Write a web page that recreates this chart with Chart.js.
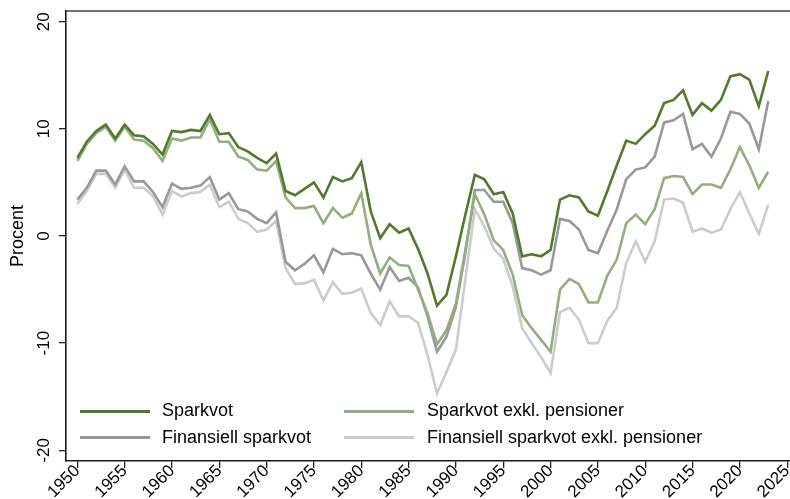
<!DOCTYPE html>
<html>
<head>
<meta charset="utf-8">
<script src="https://cdn.jsdelivr.net/npm/chart.js@4/dist/chart.umd.min.js"></script>
<style>
  html, body { margin: 0; padding: 0; background: #ffffff; }
  #wrap { position: relative; width: 790px; height: 499px; overflow: hidden; }
  #c { position: absolute; left: 0; top: 0; }
  .lg { position: absolute; font-family: "Liberation Sans", Arial, sans-serif; font-size: 18px; line-height: 21px; color: #000; white-space: nowrap; }
  .sw { position: absolute; height: 3px; width: 70px; }
</style>
</head>
<body>
<div id="wrap">
  <canvas id="c" width="790" height="499"></canvas>
  <div class="sw" style="left:80px;top:410px;background:#527a2c"></div>
  <div class="lg" style="left:162px;top:400px">Sparkvot</div>
  <div class="sw" style="left:344px;top:410px;background:#93ae7f"></div>
  <div class="lg" style="left:427px;top:400px">Sparkvot exkl. pensioner</div>
  <div class="sw" style="left:80px;top:436px;background:#999999"></div>
  <div class="lg" style="left:162px;top:427px">Finansiell sparkvot</div>
  <div class="sw" style="left:344px;top:436px;background:#cccccc"></div>
  <div class="lg" style="left:427px;top:427px">Finansiell sparkvot exkl. pensioner</div>
</div>
<script>
const years = [];
for (let y = 1950; y <= 2023; y++) years.push(y);

const sparkvot = [
  7.3, 8.8, 9.8, 10.4, 9.1, 10.4, 9.4, 9.3, 8.6, 7.6,
  9.8, 9.7, 9.9, 9.8, 11.3, 9.5, 9.6, 8.3, 7.9, 7.3,
  6.8, 7.7, 4.2, 3.8, 4.4, 5.0, 3.6, 5.5, 5.1, 5.4,
  6.9, 2.3, -0.2, 1.1, 0.3, 0.7, -1.2, -3.5, -6.5, -5.5,
  -1.9, 2.0, 5.7, 5.3, 3.9, 4.1, 2.1, -1.9, -1.7, -1.9,
  -1.3, 3.4, 3.8, 3.6, 2.3, 1.9, 4.2, 6.6, 8.9, 8.6,
  9.5, 10.3, 12.4, 12.7, 13.6, 11.3, 12.4, 11.7, 12.7, 14.9,
  15.1, 14.6, 12.1, 15.4
];
const sparkvotExkl = [
  7.0, 8.6, 9.6, 10.2, 8.9, 10.2, 9.0, 8.9, 8.2, 7.0,
  9.1, 8.9, 9.2, 9.2, 10.9, 8.8, 8.8, 7.4, 7.1, 6.2,
  6.1, 7.0, 3.6, 2.6, 2.6, 2.8, 1.2, 2.6, 1.7, 2.1,
  4.0, -0.8, -3.5, -2.0, -2.7, -2.8, -5.0, -7.2, -10.1, -8.8,
  -6.3, -1.3, 3.9, 2.0, -0.4, -1.3, -3.6, -7.4, -8.6, -9.7,
  -10.8, -5.0, -4.0, -4.5, -6.2, -6.2, -3.7, -2.2, 1.2, 2.0,
  1.1, 2.5, 5.4, 5.6, 5.5, 3.9, 4.8, 4.8, 4.5, 6.2,
  8.3, 6.6, 4.5, 6.0
];
const finansiell = [
  3.4, 4.5, 6.1, 6.1, 4.8, 6.5, 5.1, 5.1, 4.1, 2.7,
  4.9, 4.4, 4.5, 4.7, 5.5, 3.4, 4.0, 2.5, 2.3, 1.6,
  1.2, 2.2, -2.4, -3.2, -2.6, -1.8, -3.4, -1.2, -1.7, -1.6,
  -1.8, -3.5, -5.0, -2.9, -4.2, -3.9, -4.8, -7.5, -10.8, -9.4,
  -6.6, -1.6, 4.3, 4.3, 3.2, 3.2, 1.2, -3.0, -3.2, -3.6,
  -3.2, 1.6, 1.4, 0.6, -1.3, -1.6, 0.5, 2.5, 5.3, 6.2,
  6.4, 7.4, 10.6, 10.8, 11.4, 8.1, 8.6, 7.4, 9.1, 11.6,
  11.4, 10.5, 8.1, 12.6
];
const finansiellExkl = [
  3.0, 4.2, 5.8, 5.8, 4.5, 6.2, 4.5, 4.5, 3.7, 2.0,
  4.2, 3.7, 4.0, 4.1, 4.8, 2.7, 3.2, 1.6, 1.2, 0.4,
  0.6, 1.4, -3.0, -4.5, -4.4, -4.1, -6.0, -4.3, -5.4, -5.3,
  -4.9, -7.2, -8.3, -6.1, -7.5, -7.5, -8.1, -11.1, -14.7, -12.7,
  -10.6, -4.0, 2.5, 0.9, -1.2, -2.1, -4.7, -8.6, -10.0, -11.3,
  -12.8, -7.1, -6.7, -7.8, -10.0, -10.0, -7.9, -6.7, -2.5, -0.5,
  -2.4, -0.5, 3.4, 3.5, 3.1, 0.4, 0.7, 0.3, 0.6, 2.5,
  4.1, 2.1, 0.2, 2.9
];
const seriesNames = ["Sparkvot", "Sparkvot exkl. pensioner", "Finansiell sparkvot", "Finansiell sparkvot exkl. pensioner"];
const seriesColors = ["#527a2c", "#93ae7f", "#999999", "#cccccc"];
const yTicks = [-20, -10, 0, 10, 20];
const yTitle = "Procent";

const toPoints = vals => years.map((yr, i) => ({ x: yr, y: vals[i] }));
const allSeries = [sparkvot, sparkvotExkl, finansiell, finansiellExkl];
const drawOrder = [0, 1, 2, 3];

const FONT = "'Liberation Sans', Arial, sans-serif";

const topLine = {
  id: 'topLine',
  afterDraw(chart) {
    const { ctx, chartArea } = chart;
    ctx.save();
    ctx.strokeStyle = '#444444';
    ctx.lineWidth = 1.5;
    ctx.beginPath();
    ctx.moveTo(chartArea.left, chartArea.top);
    ctx.lineTo(chartArea.right, chartArea.top);
    ctx.stroke();
    ctx.restore();
  }
};

new Chart(document.getElementById('c'), {
  type: 'line',
  data: {
    datasets: drawOrder.map(i => ({
      label: seriesNames[i],
      data: toPoints(allSeries[i]),
      borderColor: seriesColors[i],
      backgroundColor: seriesColors[i],
      borderWidth: 2.6,
      pointRadius: 0,
      tension: 0,
      fill: false
    }))
  },
  options: {
    responsive: false,
    animation: false,
    devicePixelRatio: 1,
    layout: { padding: { top: 11, right: 0, left: 0, bottom: 0 } },
    plugins: { legend: { display: false }, tooltip: { enabled: false } },
    scales: {
      x: {
        type: 'linear',
        min: 1948.8,
        max: 2025.3,
        ticks: {
          stepSize: 5,
          includeBounds: false,
          autoSkip: false,
          minRotation: 45,
          maxRotation: 45,
          padding: -7,
          color: '#000',
          font: { family: FONT, size: 17 },
          callback: v => String(v)
        },
        grid: { drawOnChartArea: false, drawTicks: true, tickLength: 7, color: '#222', lineWidth: 1.3 },
        border: { display: true, color: '#1a1a1a', width: 1.6 },
        afterFit(scale) { scale.height = 38; scale.paddingLeft = 0; scale.paddingRight = 0; }
      },
      y: {
        type: 'linear',
        min: -21,
        max: 21,
        afterBuildTicks(scale) { scale.ticks = yTicks.map(v => ({ value: v })); },
        ticks: {
          includeBounds: false,
          stepSize: 10,
          minRotation: 90,
          maxRotation: 90,
          crossAlign: 'center',
          padding: 2,
          color: '#000',
          font: { family: FONT, size: 17 }
        },
        title: {
          display: true,
          text: yTitle,
          color: '#000',
          font: { family: FONT, size: 18 },
          padding: { top: 7, bottom: 0 }
        },
        grid: { drawOnChartArea: false, drawTicks: true, tickLength: 7, color: '#222', lineWidth: 1.3 },
        border: { display: true, color: '#1a1a1a', width: 1.6 },
        afterFit(scale) { scale.width = 66; scale.paddingTop = 0; scale.paddingBottom = 0; }
      }
    }
  },
  plugins: [topLine]
});
</script>
</body>
</html>
